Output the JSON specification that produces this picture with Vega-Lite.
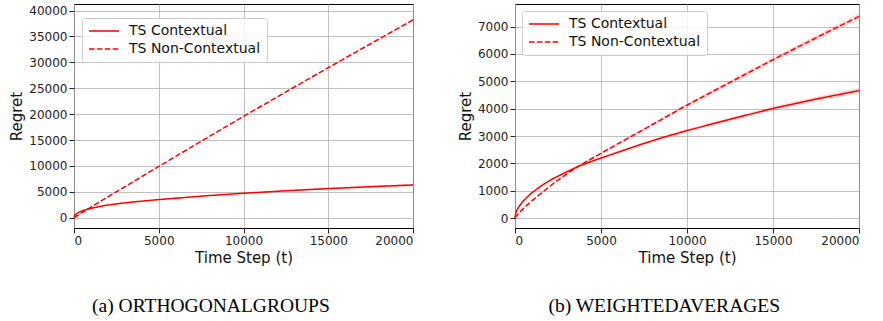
{
  "$schema": "https://vega.github.io/schema/vega-lite/v6.json",
  "background": "white",
  "padding": {"left": 9, "top": 3, "right": 0, "bottom": 0},
  "spacing": 40,
  "config": {
    "view": {"stroke": "#000000", "strokeWidth": 1},
    "font": "DejaVu Sans",
    "axis": {
      "labelFont": "DejaVu Sans", "labelFontSize": 12, "labelColor": "#222222", "format": "d",
      "titleFont": "DejaVu Sans", "titleFontSize": 15, "titleFontWeight": "normal", "titleColor": "#111111",
      "tickColor": "#222222", "tickSize": 5, "labelPadding": 2, "domain": false,
      "grid": true, "gridColor": "#b0b0b0", "gridWidth": 0.8
    },
    "legend": {
      "orient": "none", "title": null, "labelFont": "DejaVu Sans", "labelFontSize": 14, "labelColor": "#111111",
      "symbolType": "stroke", "symbolSize": 900, "symbolStrokeWidth": 1.5, "symbolStrokeColor": "#ff0000",
      "labelOffset": 9, "padding": 6, "rowPadding": 4, "clipHeight": 14,
      "fillColor": "rgba(255,255,255,0.8)", "strokeColor": "#cccccc", "cornerRadius": 3
    }
  },
  "datasets": {
    "a": [
      {"t": 0, "series": "TS Contextual", "y": 0, "lo": 0, "hi": 0},
      {"t": 50, "series": "TS Contextual", "y": 480, "lo": 470, "hi": 490},
      {"t": 150, "series": "TS Contextual", "y": 800, "lo": 785, "hi": 815},
      {"t": 300, "series": "TS Contextual", "y": 1080, "lo": 1060, "hi": 1100},
      {"t": 500, "series": "TS Contextual", "y": 1350, "lo": 1325, "hi": 1375},
      {"t": 800, "series": "TS Contextual", "y": 1640, "lo": 1610, "hi": 1670},
      {"t": 1200, "series": "TS Contextual", "y": 1950, "lo": 1915, "hi": 1985},
      {"t": 1770, "series": "TS Contextual", "y": 2330, "lo": 2290, "hi": 2370},
      {"t": 2500, "series": "TS Contextual", "y": 2670, "lo": 2620, "hi": 2720},
      {"t": 3500, "series": "TS Contextual", "y": 3050, "lo": 2990, "hi": 3110},
      {"t": 5000, "series": "TS Contextual", "y": 3500, "lo": 3420, "hi": 3580},
      {"t": 6500, "series": "TS Contextual", "y": 3900, "lo": 3800, "hi": 4000},
      {"t": 7870, "series": "TS Contextual", "y": 4250, "lo": 4140, "hi": 4360},
      {"t": 10000, "series": "TS Contextual", "y": 4720, "lo": 4590, "hi": 4850},
      {"t": 12500, "series": "TS Contextual", "y": 5200, "lo": 5040, "hi": 5360},
      {"t": 15000, "series": "TS Contextual", "y": 5620, "lo": 5430, "hi": 5810},
      {"t": 17500, "series": "TS Contextual", "y": 5990, "lo": 5770, "hi": 6210},
      {"t": 20000, "series": "TS Contextual", "y": 6320, "lo": 6070, "hi": 6570},
      {"t": 0, "series": "TS Non-Contextual", "y": 0, "lo": 0, "hi": 0},
      {"t": 300, "series": "TS Non-Contextual", "y": 630, "lo": 610, "hi": 650},
      {"t": 700, "series": "TS Non-Contextual", "y": 1450, "lo": 1420, "hi": 1480},
      {"t": 1770, "series": "TS Non-Contextual", "y": 3580, "lo": 3540, "hi": 3620},
      {"t": 3000, "series": "TS Non-Contextual", "y": 5980, "lo": 5930, "hi": 6030},
      {"t": 5000, "series": "TS Non-Contextual", "y": 9900, "lo": 9840, "hi": 9960},
      {"t": 7500, "series": "TS Non-Contextual", "y": 14760, "lo": 14690, "hi": 14830},
      {"t": 10000, "series": "TS Non-Contextual", "y": 19560, "lo": 19480, "hi": 19640},
      {"t": 12500, "series": "TS Non-Contextual", "y": 24300, "lo": 24210, "hi": 24390},
      {"t": 15000, "series": "TS Non-Contextual", "y": 28970, "lo": 28870, "hi": 29070},
      {"t": 17500, "series": "TS Non-Contextual", "y": 33600, "lo": 33490, "hi": 33710},
      {"t": 20000, "series": "TS Non-Contextual", "y": 38200, "lo": 38080, "hi": 38320}
    ],
    "b": [
      {"t": 0, "series": "TS Contextual", "y": 0, "lo": 0, "hi": 0},
      {"t": 50, "series": "TS Contextual", "y": 190, "lo": 182, "hi": 198},
      {"t": 150, "series": "TS Contextual", "y": 340, "lo": 330, "hi": 350},
      {"t": 390, "series": "TS Contextual", "y": 560, "lo": 548, "hi": 572},
      {"t": 700, "series": "TS Contextual", "y": 770, "lo": 755, "hi": 785},
      {"t": 970, "series": "TS Contextual", "y": 920, "lo": 902, "hi": 938},
      {"t": 1400, "series": "TS Contextual", "y": 1120, "lo": 1100, "hi": 1140},
      {"t": 1740, "series": "TS Contextual", "y": 1270, "lo": 1248, "hi": 1292},
      {"t": 2200, "series": "TS Contextual", "y": 1440, "lo": 1415, "hi": 1465},
      {"t": 2710, "series": "TS Contextual", "y": 1600, "lo": 1572, "hi": 1628},
      {"t": 3200, "series": "TS Contextual", "y": 1750, "lo": 1720, "hi": 1780},
      {"t": 3680, "series": "TS Contextual", "y": 1890, "lo": 1857, "hi": 1923},
      {"t": 4300, "series": "TS Contextual", "y": 2040, "lo": 2004, "hi": 2076},
      {"t": 5000, "series": "TS Contextual", "y": 2195, "lo": 2155, "hi": 2235},
      {"t": 6000, "series": "TS Contextual", "y": 2410, "lo": 2365, "hi": 2455},
      {"t": 7260, "series": "TS Contextual", "y": 2680, "lo": 2630, "hi": 2730},
      {"t": 8500, "series": "TS Contextual", "y": 2930, "lo": 2875, "hi": 2985},
      {"t": 10000, "series": "TS Contextual", "y": 3200, "lo": 3140, "hi": 3260},
      {"t": 12500, "series": "TS Contextual", "y": 3610, "lo": 3540, "hi": 3680},
      {"t": 15000, "series": "TS Contextual", "y": 4010, "lo": 3930, "hi": 4090},
      {"t": 17500, "series": "TS Contextual", "y": 4350, "lo": 4260, "hi": 4440},
      {"t": 20000, "series": "TS Contextual", "y": 4660, "lo": 4560, "hi": 4760},
      {"t": 0, "series": "TS Non-Contextual", "y": 0, "lo": 0, "hi": 0},
      {"t": 100, "series": "TS Non-Contextual", "y": 90, "lo": 82, "hi": 98},
      {"t": 300, "series": "TS Non-Contextual", "y": 230, "lo": 220, "hi": 240},
      {"t": 600, "series": "TS Non-Contextual", "y": 420, "lo": 408, "hi": 432},
      {"t": 1000, "series": "TS Non-Contextual", "y": 640, "lo": 625, "hi": 655},
      {"t": 1500, "series": "TS Non-Contextual", "y": 900, "lo": 882, "hi": 918},
      {"t": 2000, "series": "TS Non-Contextual", "y": 1150, "lo": 1130, "hi": 1170},
      {"t": 2500, "series": "TS Non-Contextual", "y": 1390, "lo": 1367, "hi": 1413},
      {"t": 3000, "series": "TS Non-Contextual", "y": 1610, "lo": 1584, "hi": 1636},
      {"t": 3500, "series": "TS Non-Contextual", "y": 1820, "lo": 1790, "hi": 1850},
      {"t": 4000, "series": "TS Non-Contextual", "y": 2010, "lo": 1977, "hi": 2043},
      {"t": 5000, "series": "TS Non-Contextual", "y": 2370, "lo": 2330, "hi": 2410},
      {"t": 6000, "series": "TS Non-Contextual", "y": 2720, "lo": 2675, "hi": 2765},
      {"t": 7000, "series": "TS Non-Contextual", "y": 3070, "lo": 3020, "hi": 3120},
      {"t": 8500, "series": "TS Non-Contextual", "y": 3600, "lo": 3542, "hi": 3658},
      {"t": 10000, "series": "TS Non-Contextual", "y": 4130, "lo": 4065, "hi": 4195},
      {"t": 12500, "series": "TS Non-Contextual", "y": 4960, "lo": 4885, "hi": 5035},
      {"t": 15000, "series": "TS Non-Contextual", "y": 5790, "lo": 5705, "hi": 5875},
      {"t": 17500, "series": "TS Non-Contextual", "y": 6590, "lo": 6495, "hi": 6685},
      {"t": 20000, "series": "TS Non-Contextual", "y": 7370, "lo": 7265, "hi": 7475}
    ]
  },
  "hconcat": [
    {
      "width": 339, "height": 224,
      "data": {"name": "a"},
      "title": {"text": "(a) ORTHOGONALGROUPS", "orient": "bottom", "font": "Liberation Serif", "fontSize": 19.5, "fontWeight": "normal", "color": "#000000", "offset": 32, "frame": "bounds", "anchor": "middle", "dx": -2},
      "encoding": {
        "x": {"field": "t", "type": "quantitative", "scale": {"domain": [0, 20000], "nice": false, "zero": false},
              "axis": {"values": [0, 5000, 10000, 15000, 20000], "title": "Time Step (t)", "titlePadding": 4}}
      },
      "layer": [
        {
          "mark": {"type": "area", "color": "#ff0000", "opacity": 0.15},
          "encoding": {
            "y": {"field": "lo", "type": "quantitative", "scale": {"domain": [-1986, 41272], "nice": false, "zero": false},
                  "axis": {"values": [0, 5000, 10000, 15000, 20000, 25000, 30000, 35000, 40000], "title": "Regret", "titlePadding": 4}},
            "y2": {"field": "hi"},
            "detail": {"field": "series"}
          }
        },
        {
          "mark": {"type": "line", "color": "#ff0000", "strokeWidth": 1.5},
          "encoding": {
            "y": {"field": "y", "type": "quantitative", "scale": {"domain": [-1986, 41272], "nice": false, "zero": false},
                  "axis": {"values": [0, 5000, 10000, 15000, 20000, 25000, 30000, 35000, 40000], "title": "Regret", "titlePadding": 4}},
            "strokeDash": {"field": "series", "type": "nominal",
                           "scale": {"domain": ["TS Contextual", "TS Non-Contextual"], "range": [[1, 0], [5.5, 2.4]]},
                           "legend": {"orient": "none", "legendX": 8, "legendY": 14}}
          }
        }
      ]
    },
    {
      "width": 344, "height": 224,
      "data": {"name": "b"},
      "title": {"text": "(b) WEIGHTEDAVERAGES", "orient": "bottom", "font": "Liberation Serif", "fontSize": 19.5, "fontWeight": "normal", "color": "#000000", "offset": 32, "frame": "bounds", "anchor": "middle", "dx": 4},
      "encoding": {
        "x": {"field": "t", "type": "quantitative", "scale": {"domain": [0, 20000], "nice": false, "zero": false},
              "axis": {"values": [0, 5000, 10000, 15000, 20000], "title": "Time Step (t)", "titlePadding": 4}}
      },
      "layer": [
        {
          "mark": {"type": "area", "color": "#ff0000", "opacity": 0.15},
          "encoding": {
            "y": {"field": "lo", "type": "quantitative", "scale": {"domain": [-361, 7825], "nice": false, "zero": false},
                  "axis": {"values": [0, 1000, 2000, 3000, 4000, 5000, 6000, 7000], "title": "Regret", "titlePadding": 4}},
            "y2": {"field": "hi"},
            "detail": {"field": "series"}
          }
        },
        {
          "mark": {"type": "line", "color": "#ff0000", "strokeWidth": 1.5},
          "encoding": {
            "y": {"field": "y", "type": "quantitative", "scale": {"domain": [-361, 7825], "nice": false, "zero": false},
                  "axis": {"values": [0, 1000, 2000, 3000, 4000, 5000, 6000, 7000], "title": "Regret", "titlePadding": 4}},
            "strokeDash": {"field": "series", "type": "nominal",
                           "scale": {"domain": ["TS Contextual", "TS Non-Contextual"], "range": [[1, 0], [5.5, 2.4]]},
                           "legend": {"orient": "none", "legendX": 7, "legendY": 7}}
          }
        }
      ]
    }
  ],
  "resolve": {"scale": {"strokeDash": "independent"}, "legend": {"strokeDash": "independent"}}
}
